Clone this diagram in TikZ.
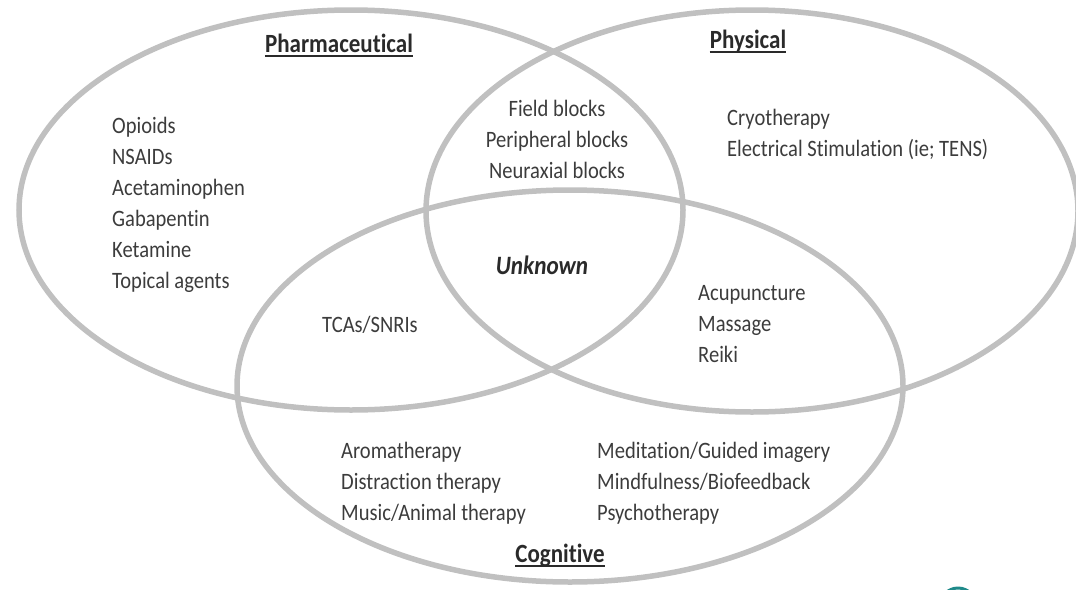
\documentclass[tikz,border=0pt]{standalone}
\usepackage{fontspec}
\setmainfont{Carlito}[FakeStretch=0.875, Ligatures={NoCommon}]
\definecolor{ringgray}{HTML}{C0C0C0}
\definecolor{txtgray}{HTML}{3C3C3C}
\definecolor{headgray}{HTML}{2A2A2A}
\definecolor{accent}{HTML}{1F8A8A}
\begin{document}
\begin{tikzpicture}[x=1pt,y=-1pt,
  ring/.style={draw=ringgray, line width=5.5pt},
  item/.style={font=\fontsize{23.5}{31}\selectfont, text=txtgray, align=left, inner sep=0pt, anchor=west},
  head/.style={font=\bfseries\fontsize{26.3}{31}\selectfont, text=headgray, inner sep=0pt, anchor=base},
  uline/.style={draw=headgray, line width=1.4pt}]
\useasboundingbox (0,0) rectangle (1076,589);
\clip (0,0) rectangle (1076,589);

% the three overlapping sets
\draw[ring] (351,210) ellipse [x radius=332, y radius=200];
\draw[ring] (752,211) ellipse [x radius=326, y radius=201];
\draw[ring] (570,386) ellipse [x radius=333, y radius=196];

% set titles
\node[head] (tph) at (339,52) {Pharmaceutical};
\node[head] (tpy) at (748,48) {Physical};
\node[head] (tco) at (560,562) {Cognitive};
\foreach \t in {tph,tpy,tco}
  \draw[uline] ([yshift=-4pt]\t.base west) -- ([yshift=-4pt]\t.base east);

% members of each region
\node[item] (pharma) at (112,205) {Opioids\\NSAIDs\\Acetaminophen\\Gabapentin\\Ketamine\\Topical agents};
\node[item, align=center, anchor=center] (blocks) at (557,139) {Field blocks\\Peripheral blocks\\Neuraxial blocks};
\node[item] (phys) at (727,134) {Cryotherapy\\Electrical Stimulation (ie; TENS)};
\node[item, anchor=center, text=headgray, font=\bfseries\itshape\fontsize{26.5}{31}\selectfont] (unk) at (542,265) {Unknown};
\node[item] (tca) at (322,325) {TCAs/SNRIs};
\node[item] (touch) at (698,324) {Acupuncture\\Massage\\Reiki};
\node[item] (sens) at (341,483) {Aromatherapy\\Distraction therapy\\Music/Animal therapy};
\node[item] (mind) at (597,483) {Meditation/Guided imagery\\Mindfulness/Biofeedback\\Psychotherapy};

% corner mark
\draw[accent, line width=3pt] (958,606) circle [radius=18];
\end{tikzpicture}
\end{document}
